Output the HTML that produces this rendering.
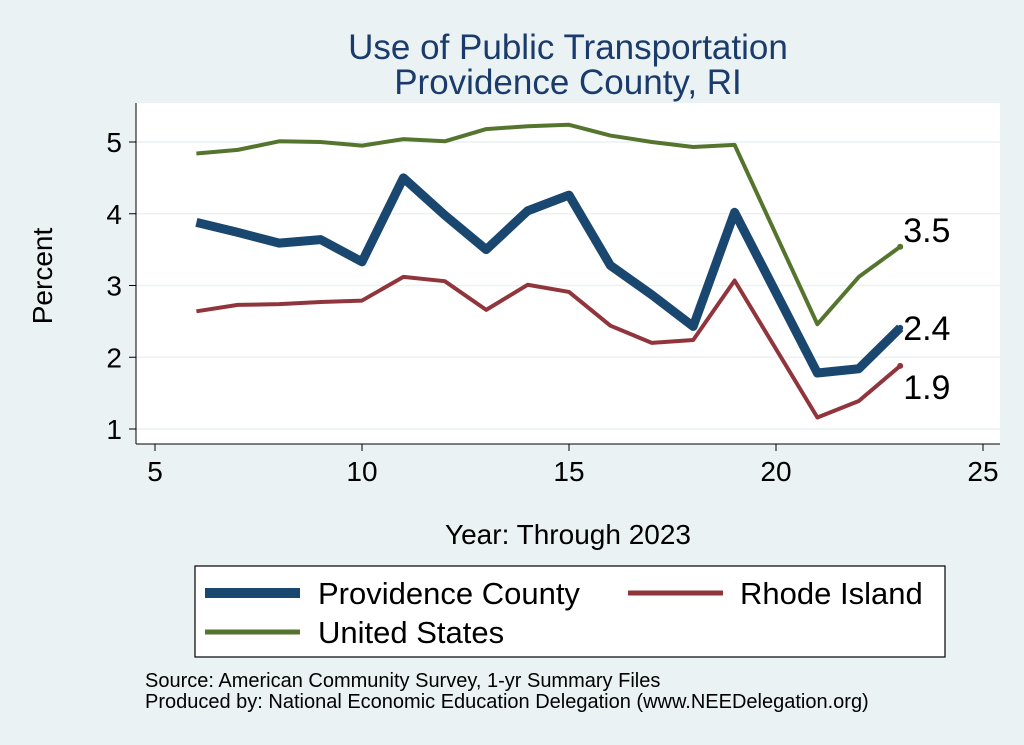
<!DOCTYPE html>
<html><head><meta charset="utf-8"><style>
body{margin:0;background:#eaf2f3;}
svg{display:block;font-family:"Liberation Sans",Arial,sans-serif;}
</style></head><body>
<svg id="c" width="1024" height="745" viewBox="0 0 1024 745">
<rect x="0" y="0" width="1024" height="745" fill="#eaf2f3"/>
<text x="568" y="59" font-size="35" fill="#1a3b6b" text-anchor="middle">Use of Public Transportation</text>
<text x="568" y="94" font-size="35" fill="#1a3b6b" text-anchor="middle">Providence County, RI</text>
<rect x="136" y="103" width="864" height="341" fill="#fff"/>
<g id="grid"></g><g id="axes"></g><g id="series"></g>
<text x="52" y="276" font-size="28" text-anchor="middle" transform="rotate(-90 52 276)">Percent</text>
<text x="568" y="544" font-size="28" text-anchor="middle">Year: Through 2023</text>
<g>
<rect x="195" y="566" width="750" height="91" fill="#fff" stroke="#000" stroke-width="1.2"/>
<line x1="205" y1="593" x2="300" y2="593" stroke="#1a476f" stroke-width="10"/>
<text x="318" y="604" font-size="31">Providence County</text>
<line x1="628" y1="593" x2="723" y2="593" stroke="#90353b" stroke-width="5"/>
<text x="740" y="604" font-size="31">Rhode Island</text>
<line x1="205" y1="632" x2="300" y2="632" stroke="#55752f" stroke-width="5"/>
<text x="318" y="643" font-size="31">United States</text>
</g>
<text x="145" y="687" font-size="20">Source: American Community Survey, 1-yr Summary Files</text>
<text x="145" y="708" font-size="20">Produced by: National Economic Education Delegation (www.NEEDelegation.org)</text>
</svg>
<script>
const years=[6,7,8,9,10,11,12,13,14,15,16,17,18,19,21,22,23];
const usVals=[4.84,4.89,5.01,5.00,4.95,5.04,5.01,5.18,5.22,5.24,5.09,5.00,4.93,4.96,2.46,3.12,3.54];
const provVals=[3.88,3.74,3.59,3.64,3.33,4.50,3.98,3.50,4.04,4.26,3.28,2.87,2.43,4.02,1.78,1.84,2.41];
const riVals=[2.64,2.73,2.74,2.77,2.79,3.12,3.06,2.66,3.01,2.91,2.44,2.20,2.24,3.07,1.16,1.39,1.88];
const xTicks=[5,10,15,20,25];
const yTicks=[1,2,3,4,5];
const NS="http://www.w3.org/2000/svg";
const X=v=>155+(v-5)*41.4;
const Y=v=>429-(v-1)*71.75;
function mk(t,a,p){const e=document.createElementNS(NS,t);for(const k in a)e.setAttribute(k,a[k]);p.appendChild(e);return e;}
const grid=document.getElementById('grid'),axes=document.getElementById('axes'),ser=document.getElementById('series');
yTicks.forEach(v=>{
 const g=mk('line',{x1:136,x2:1000,y1:Y(v),y2:Y(v),stroke:'#eaf2f3','stroke-width':1.5},grid);
 
 
 mk('line',{x1:129,x2:136,y1:Y(v),y2:Y(v),stroke:'#000'},axes);
 const t=mk('text',{x:122,y:Y(v)+10,'font-size':28,'text-anchor':'end'},axes);t.textContent=v;
 
 
});
mk('line',{x1:136,x2:136,y1:103,y2:444,stroke:'#000'},axes);
mk('line',{x1:136,x2:1000,y1:444,y2:444,stroke:'#000'},axes);
xTicks.forEach(v=>{
 mk('line',{x1:X(v),x2:X(v),y1:444,y2:451,stroke:'#000'},axes);
 const t=mk('text',{x:X(v),y:481,'font-size':28,'text-anchor':'middle'},axes);t.textContent=v;
 
 
});
function line(vals,col,w,name,dy){
 const p=mk('polyline',{points:years.map((y,i)=>X(y)+','+Y(vals[i])).join(' '),fill:'none',stroke:col,'stroke-width':w,'stroke-linejoin':'round'},ser);
 
 
 const last=vals[vals.length-1];
 mk('circle',{cx:X(years[years.length-1]),cy:Y(last),r:3,fill:col},ser);
 const t=mk('text',{x:X(years[years.length-1])+3,y:Y(last)+dy,'font-size':34},ser);t.textContent=last.toFixed(1);
 
 
}
line(usVals,'#55752f',4,'us-line',-5);
line(riVals,'#90353b',4,'ri-line',33);
line(provVals,'#1a476f',9,'providence-line',12);
</script>
</body></html>
